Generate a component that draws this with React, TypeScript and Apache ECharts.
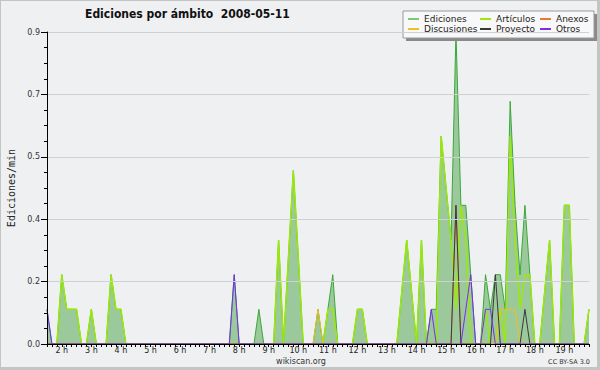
import { useEffect, useRef } from 'react';
import * as echarts from 'echarts';

// 10-minute buckets starting at 01:30 (minutes of the day)
const START_MIN = 90;
const STEP_MIN = 10;

const ediciones = [
  0.1, 0, 0, 0.2, 0.1, 0.1, 0.1, 0, 0, 0.1, 0, 0,
  0, 0.2, 0.1, 0.1, 0, 0, 0, 0, 0, 0, 0, 0,
  0, 0, 0, 0, 0, 0, 0, 0, 0, 0, 0, 0,
  0, 0, 0.2, 0, 0, 0, 0, 0.1, 0, 0, 0, 0.3,
  0, 0.25, 0.5, 0.25, 0, 0, 0, 0.1, 0, 0.1, 0.2, 0,
  0, 0, 0, 0.1, 0.1, 0, 0, 0, 0, 0, 0, 0,
  0.15, 0.3, 0.15, 0, 0.3, 0, 0.1, 0.1, 0.6, 0.45, 0.3, 0.9,
  0.4, 0.4, 0.2, 0, 0, 0.2, 0.1, 0.2, 0.2, 0.1, 0.7, 0.4,
  0.2, 0.4, 0.2, 0, 0, 0.15, 0.3, 0, 0, 0.4, 0.4, 0,
  0, 0, 0.1,
];

const articulos = [
  0, 0, 0, 0.2, 0.1, 0.1, 0.1, 0, 0, 0.1, 0, 0,
  0, 0.2, 0.1, 0.1, 0, 0, 0, 0, 0, 0, 0, 0,
  0, 0, 0, 0, 0, 0, 0, 0, 0, 0, 0, 0,
  0, 0, 0, 0, 0, 0, 0, 0, 0, 0, 0, 0.3,
  0, 0.25, 0.5, 0.25, 0, 0, 0, 0, 0, 0.1, 0.1, 0,
  0, 0, 0, 0.1, 0.1, 0, 0, 0, 0, 0, 0, 0,
  0.15, 0.3, 0.15, 0, 0.3, 0, 0, 0, 0.6, 0.45, 0.3, 0.1,
  0.4, 0.3, 0, 0, 0, 0.1, 0, 0, 0.1, 0, 0.6, 0.3,
  0.1, 0.2, 0.2, 0, 0, 0.15, 0.3, 0, 0, 0.4, 0.4, 0,
  0, 0, 0.1,
];

const anexos = [
  0, 0, 0, 0, 0, 0, 0, 0, 0, 0, 0, 0,
  0, 0, 0, 0, 0, 0, 0, 0, 0, 0, 0, 0,
  0, 0, 0, 0, 0, 0, 0, 0, 0, 0, 0, 0,
  0, 0, 0, 0, 0, 0, 0, 0, 0, 0, 0, 0,
  0, 0, 0, 0, 0, 0, 0, 0, 0, 0, 0, 0,
  0, 0, 0, 0, 0, 0, 0, 0, 0, 0, 0, 0,
  0, 0, 0, 0, 0, 0, 0, 0, 0, 0, 0, 0.4,
  0, 0, 0, 0, 0, 0, 0, 0, 0, 0, 0, 0,
  0, 0, 0, 0, 0, 0, 0, 0, 0, 0, 0, 0,
  0, 0, 0,
];

const discusiones = [
  0, 0, 0, 0, 0, 0, 0, 0, 0, 0, 0, 0,
  0, 0, 0, 0, 0, 0, 0, 0, 0, 0, 0, 0,
  0, 0, 0, 0, 0, 0, 0, 0, 0, 0, 0, 0,
  0, 0, 0, 0, 0, 0, 0, 0, 0, 0, 0, 0,
  0, 0, 0, 0, 0, 0, 0, 0.1, 0, 0, 0, 0,
  0, 0, 0, 0, 0, 0, 0, 0, 0, 0, 0, 0,
  0, 0, 0, 0, 0, 0, 0, 0, 0, 0, 0, 0,
  0, 0, 0, 0, 0, 0, 0, 0, 0.1, 0.1, 0.1, 0.1,
  0, 0, 0, 0, 0, 0, 0, 0, 0, 0, 0, 0,
  0, 0, 0,
];

const proyecto = [
  0, 0, 0, 0, 0, 0, 0, 0, 0, 0, 0, 0,
  0, 0, 0, 0, 0, 0, 0, 0, 0, 0, 0, 0,
  0, 0, 0, 0, 0, 0, 0, 0, 0, 0, 0, 0,
  0, 0, 0, 0, 0, 0, 0, 0, 0, 0, 0, 0,
  0, 0, 0, 0, 0, 0, 0, 0, 0, 0, 0, 0,
  0, 0, 0, 0, 0, 0, 0, 0, 0, 0, 0, 0,
  0, 0, 0, 0, 0, 0, 0, 0, 0, 0, 0, 0.4,
  0, 0, 0, 0, 0, 0, 0, 0.2, 0, 0, 0, 0,
  0, 0.1, 0, 0, 0, 0, 0, 0, 0, 0, 0, 0,
  0, 0, 0,
];

const otros = [
  0.1, 0, 0, 0, 0, 0, 0, 0, 0, 0, 0, 0,
  0, 0, 0, 0, 0, 0, 0, 0, 0, 0, 0, 0,
  0, 0, 0, 0, 0, 0, 0, 0, 0, 0, 0, 0,
  0, 0, 0.2, 0, 0, 0, 0, 0, 0, 0, 0, 0,
  0, 0, 0, 0, 0, 0, 0, 0, 0, 0, 0, 0,
  0, 0, 0, 0, 0, 0, 0, 0, 0, 0, 0, 0,
  0, 0, 0, 0, 0, 0, 0.1, 0, 0, 0, 0, 0,
  0, 0.1, 0.2, 0, 0, 0.1, 0.1, 0, 0, 0, 0, 0,
  0, 0, 0, 0, 0, 0, 0, 0, 0, 0, 0, 0,
  0, 0, 0,
];

const Y_MAX = 0.9;
const Y_INTERVAL = 0.18;

const TITLE = 'Ediciones por ámbito  2008-05-11';
const Y_NAME = 'Ediciones/min';

const FONT = '"DejaVu Sans", sans-serif';

export default function App() {
  const ref = useRef<HTMLDivElement>(null);

  useEffect(() => {
    document.body.style.margin = '0';
    const chart = echarts.init(ref.current!, undefined, { renderer: 'svg' });
    const pairs = (arr: number[]) => arr.map((v, i) => [START_MIN + i * STEP_MIN, v]);
    const xMax = START_MIN + (ediciones.length - 1) * STEP_MIN;

    const lineSeries = (name: string, data: number[], color: string, width: number, legendColor?: string) => ({
      name,
      type: 'line',
      data: pairs(data),
      symbol: 'none',
      showSymbol: false,
      z: 3,
      itemStyle: { color: legendColor || color },
      lineStyle: { color, width },
      emphasis: { disabled: true },
    });

    const legendBase = {
      orient: 'vertical',
      top: 14,
      padding: 0,
      itemGap: 0,
      itemWidth: 11,
      itemHeight: 2,
      icon: 'rect',
      selectedMode: false,
      z: 6,
      textStyle: { fontSize: 9, fontFamily: FONT, color: '#222', lineHeight: 10 },
    };

    chart.setOption({
      animation: false,
      backgroundColor: '#eff0f1',
      grid: { left: 47, right: 11, top: 32, bottom: 26, outerBoundsMode: 'none', containLabel: false },
      legend: [
        { ...legendBase, left: 408, data: ['Ediciones', 'Discusiones'] },
        { ...legendBase, left: 480, data: ['Artículos', 'Proyecto'] },
        { ...legendBase, left: 540, data: ['Anexos', 'Otros'] },
      ],
      xAxis: {
        type: 'value',
        min: START_MIN,
        max: xMax,
        interval: STEP_MIN,
        z: 10,
        axisLine: { show: true, lineStyle: { color: '#000', width: 1 } },
        axisTick: { show: true, length: 3, lineStyle: { color: '#000' } },
        splitLine: { show: false },
        axisLabel: {
          fontSize: 8,
          fontFamily: FONT,
          color: '#222',
          margin: 2,
          formatter: (v: number) => (v % 60 === 0 ? `${v / 60} h` : ''),
        },
      },
      yAxis: {
        type: 'value',
        min: 0,
        max: Y_MAX,
        interval: Y_INTERVAL,
        z: 10,
        name: Y_NAME,
        nameLocation: 'middle',
        nameGap: 31,
        nameTextStyle: { fontSize: 10, fontFamily: '"DejaVu Sans Mono", monospace', color: '#222' },
        axisLine: { show: true, lineStyle: { color: '#000', width: 1 } },
        axisTick: { show: true, length: 6, lineStyle: { color: '#000' } },
        minorTick: { show: true, splitNumber: 4, length: 3, lineStyle: { color: '#000' } },
        splitLine: { show: true, lineStyle: { color: '#cfd0d2', width: 1 } },
        axisLabel: {
          fontSize: 8,
          fontFamily: FONT,
          color: '#333',
          margin: 7,
          formatter: (v: number) => v.toFixed(1),
        },
      },
      graphic: [
        { type: 'rect', z: 3, shape: { x: 406, y: 14, width: 191, height: 27 }, style: { fill: '#8a8a8a' } },
        { type: 'rect', z: 3, shape: { x: 403, y: 11, width: 191, height: 27 }, style: { fill: '#f8f8f8', stroke: '#9a9a9a', lineWidth: 1 } },
        {
          type: 'text', z: 5, x: 85, y: 14,
          style: { text: TITLE, fontSize: 12, fontWeight: 'bold', fontFamily: '"DejaVu Sans Condensed", "DejaVu Sans", sans-serif', fill: '#111', textVerticalAlign: 'middle' },
        },
        {
          type: 'text', z: 5, x: 301, y: 361,
          style: { text: 'wikiscan.org', fontSize: 8, fontFamily: FONT, fill: '#333', textAlign: 'center', textVerticalAlign: 'middle' },
        },
        {
          type: 'text', z: 5, x: 590, y: 362,
          style: { text: 'CC BY-SA 3.0', fontSize: 6.5, fontFamily: FONT, fill: '#333', textAlign: 'right', textVerticalAlign: 'middle' },
        },
        { type: 'rect', z: 5, shape: { x: 0, y: 0, width: 600, height: 1 }, style: { fill: '#c4c4c4' } },
        { type: 'rect', z: 5, shape: { x: 0, y: 0, width: 1, height: 370 }, style: { fill: '#c4c4c4' } },
        { type: 'rect', z: 5, shape: { x: 597, y: 0, width: 3, height: 370 }, style: { fill: '#c4c4c4' } },
        { type: 'rect', z: 5, shape: { x: 0, y: 367, width: 600, height: 3 }, style: { fill: '#c4c4c4' } },
      ],
      series: [
        {
          ...lineSeries('Ediciones', ediciones, '#3aa83a', 1, '#7cc77c'),
          z: 2,
          areaStyle: { color: '#9cc99c', opacity: 1 },
        },
        lineSeries('Artículos', articulos, '#9be80c', 1.5),
        lineSeries('Anexos', anexos, '#e87838', 1),
        lineSeries('Discusiones', discusiones, '#f0c020', 1),
        lineSeries('Proyecto', proyecto, '#3a3a3a', 1),
        lineSeries('Otros', otros, '#7a2cf0', 1),
      ],
    });

    return () => chart.dispose();
  }, []);

  return <div ref={ref} style={{ width: 600, height: 370 }} />;
}
